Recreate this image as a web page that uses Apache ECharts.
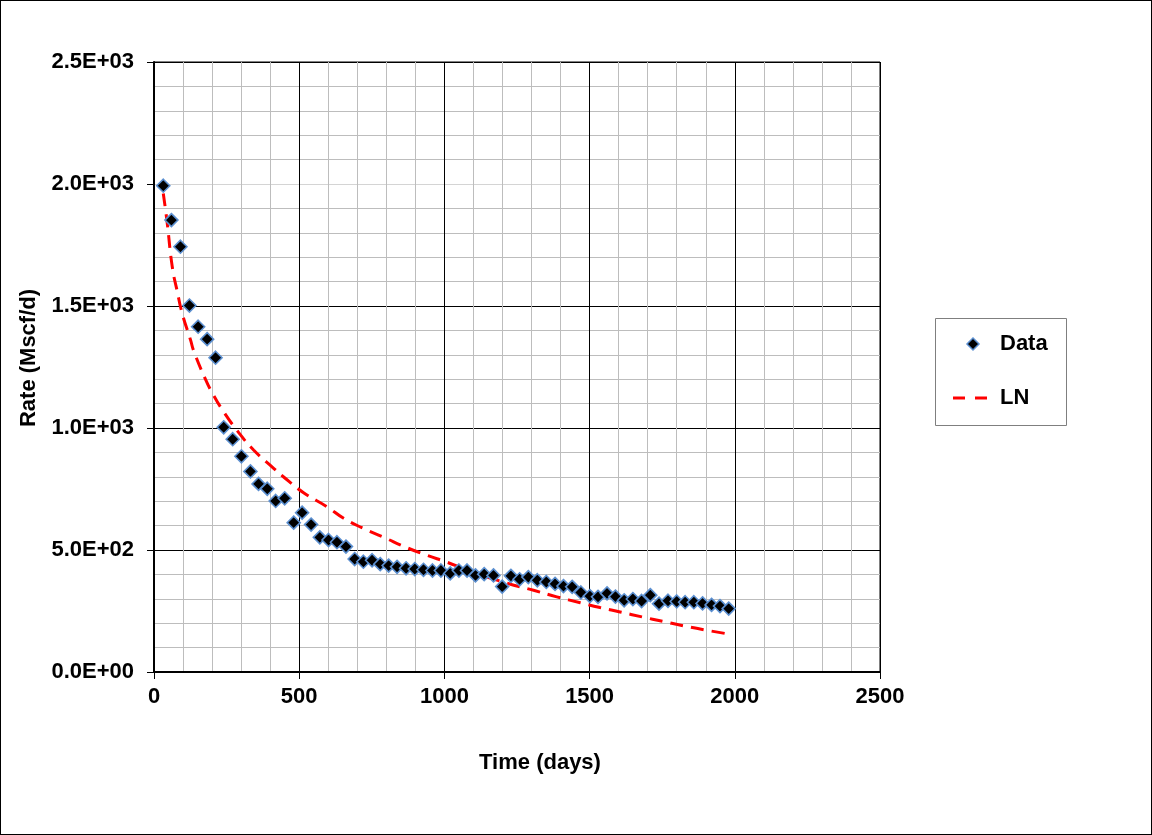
<!DOCTYPE html>
<html>
<head>
<meta charset="utf-8">
<script src="https://cdn.jsdelivr.net/npm/echarts@6/dist/echarts.min.js"></script>
<style>
  html, body { margin: 0; padding: 0; background: #fff; }
  #main { width: 1150px; height: 833px; border: 1px solid #000; }
</style>
</head>
<body>
<div id="main"></div>
<script>
// production data (days, Mscf/d)
var days = [32, 60, 91, 122, 152, 183, 212, 240, 271, 301, 332, 360, 390, 419, 450, 481,
  510, 541, 571, 601, 630, 661, 691, 721, 751, 779, 808, 837, 868, 898, 928, 959,
  988, 1020, 1050, 1078, 1107, 1137, 1169, 1199, 1229, 1259, 1289, 1320, 1351, 1381, 1410, 1440,
  1470, 1501, 1529, 1560, 1589, 1619, 1649, 1679, 1709, 1739, 1770, 1800, 1829, 1859, 1889, 1920,
  1949, 1979];
var rate = [1993, 1852, 1743, 1502, 1415, 1364, 1288, 1003, 954, 884, 822, 771, 751, 701, 712, 612,
  653, 604, 552, 541, 532, 514, 463, 452, 458, 442, 436, 431, 425, 422, 419, 416,
  416, 404, 416, 416, 396, 401, 396, 350, 394, 380, 389, 376, 369, 361, 352, 349,
  326, 311, 308, 322, 309, 294, 299, 291, 315, 280, 292, 289, 286, 286, 281, 275,
  270, 260];

// LN fit curve
var lnDays = [32, 45, 63, 80, 97, 126, 137, 177, 200, 235, 286, 343, 412, 458, 515, 596, 653,
  722, 791, 866, 940, 1009, 1078, 1215, 1307, 1387, 1468, 1536, 1605, 1680, 1754, 1829, 1904, 1982];
var lnRate = [1961, 1845, 1660, 1560, 1470, 1360, 1315, 1200, 1145, 1075, 990, 910, 835, 788, 735, 677, 630,
  588, 552, 512, 478, 450, 418, 364, 335, 308, 284, 264, 246, 226, 207, 188, 171, 155];

var yTickLabels = ['0.0E+00', '5.0E+02', '1.0E+03', '1.5E+03', '2.0E+03', '2.5E+03'];
var legendNames = ['Data', 'LN'];

var font = "'Liberation Sans', Arial, sans-serif";
var fs = 22;

var myChart = echarts.init(document.getElementById('main'));

var option = {
  backgroundColor: '#fff',
  animation: false,
  textStyle: { fontFamily: font },
  grid: {
    left: 153, right: 271, top: 61, bottom: 162,
    show: true, borderColor: '#000', borderWidth: 1, backgroundColor: 'transparent'
  },
  xAxis: {
    type: 'value',
    min: 0, max: 2500, interval: 500,
    axisLine: { show: true, lineStyle: { color: '#000', width: 2 } },
    axisTick: { show: true, length: 7, lineStyle: { color: '#000', width: 1 } },
    axisLabel: {
      color: '#000', fontSize: fs, fontWeight: 'bold', margin: 14, fontFamily: font,
      formatter: function (v) { return String(v); }
    },
    splitLine: { show: true, lineStyle: { color: '#000', width: 1 } },
    minorTick: { show: false, splitNumber: 5 },
    minorSplitLine: { show: true, lineStyle: { color: '#bdbdbd', width: 1 } }
  },
  yAxis: {
    type: 'value',
    min: 0, max: 2500, interval: 500,
    axisLine: { show: true, lineStyle: { color: '#000', width: 2 } },
    axisTick: { show: true, length: 7, lineStyle: { color: '#000', width: 1 } },
    axisLabel: {
      color: '#000', fontSize: fs, fontWeight: 'bold', margin: 20, fontFamily: font,
      formatter: function (v) { return yTickLabels[Math.round(v / 500)]; }
    },
    splitLine: { show: true, lineStyle: { color: ['#000', '#000', '#000', '#000', '#d4d4d4', '#000'], width: 1 } },
    minorTick: { show: false, splitNumber: 5 },
    minorSplitLine: { show: true, lineStyle: { color: '#bdbdbd', width: 1 } }
  },
  graphic: [
    // axis titles
    {
      type: 'text', x: 539, y: 762,
      style: { text: 'Time (days)', font: 'bold ' + fs + 'px ' + font, fill: '#000', align: 'center', verticalAlign: 'middle' }
    },
    {
      type: 'text', x: 28, y: 357, rotation: Math.PI / 2,
      style: { text: 'Rate (Mscf/d)', font: 'bold ' + fs + 'px ' + font, fill: '#000', align: 'center', verticalAlign: 'middle' }
    },
    // legend box
    {
      type: 'rect', shape: { x: 934.5, y: 317.5, width: 131, height: 107 },
      style: { fill: '#fff', stroke: '#7f7f7f', lineWidth: 1 }
    },
    {
      type: 'polygon', shape: { points: [[972, 337], [978, 343], [972, 349], [966, 343]] },
      style: { fill: '#000', stroke: '#5b8fd0', lineWidth: 1.5 }
    },
    {
      type: 'text', x: 999, y: 343,
      style: { text: legendNames[0], font: 'bold ' + fs + 'px ' + font, fill: '#000', align: 'left', verticalAlign: 'middle' }
    },
    {
      type: 'line', shape: { x1: 952, y1: 397, x2: 987, y2: 397 },
      style: { stroke: '#ff0000', lineWidth: 3, lineDash: [12, 10] }
    },
    {
      type: 'text', x: 999, y: 397,
      style: { text: legendNames[1], font: 'bold ' + fs + 'px ' + font, fill: '#000', align: 'left', verticalAlign: 'middle' }
    }
  ],
  series: [
    {
      name: legendNames[0],
      type: 'scatter',
      symbol: 'diamond',
      symbolSize: 13,
      z: 5,
      itemStyle: { color: '#000', borderColor: '#5b8fd0', borderWidth: 1.6, opacity: 1 },
      data: days.map(function (d, i) { return [d, rate[i]]; })
    },
    {
      name: legendNames[1],
      type: 'line',
      smooth: true,
      showSymbol: false,
      symbol: 'none',
      z: 3,
      lineStyle: { color: '#ff0000', width: 3, type: [13, 8] },
      data: lnDays.map(function (d, i) { return [d, lnRate[i]]; })
    }
  ]
};

myChart.setOption(option);
</script>
</body>
</html>
